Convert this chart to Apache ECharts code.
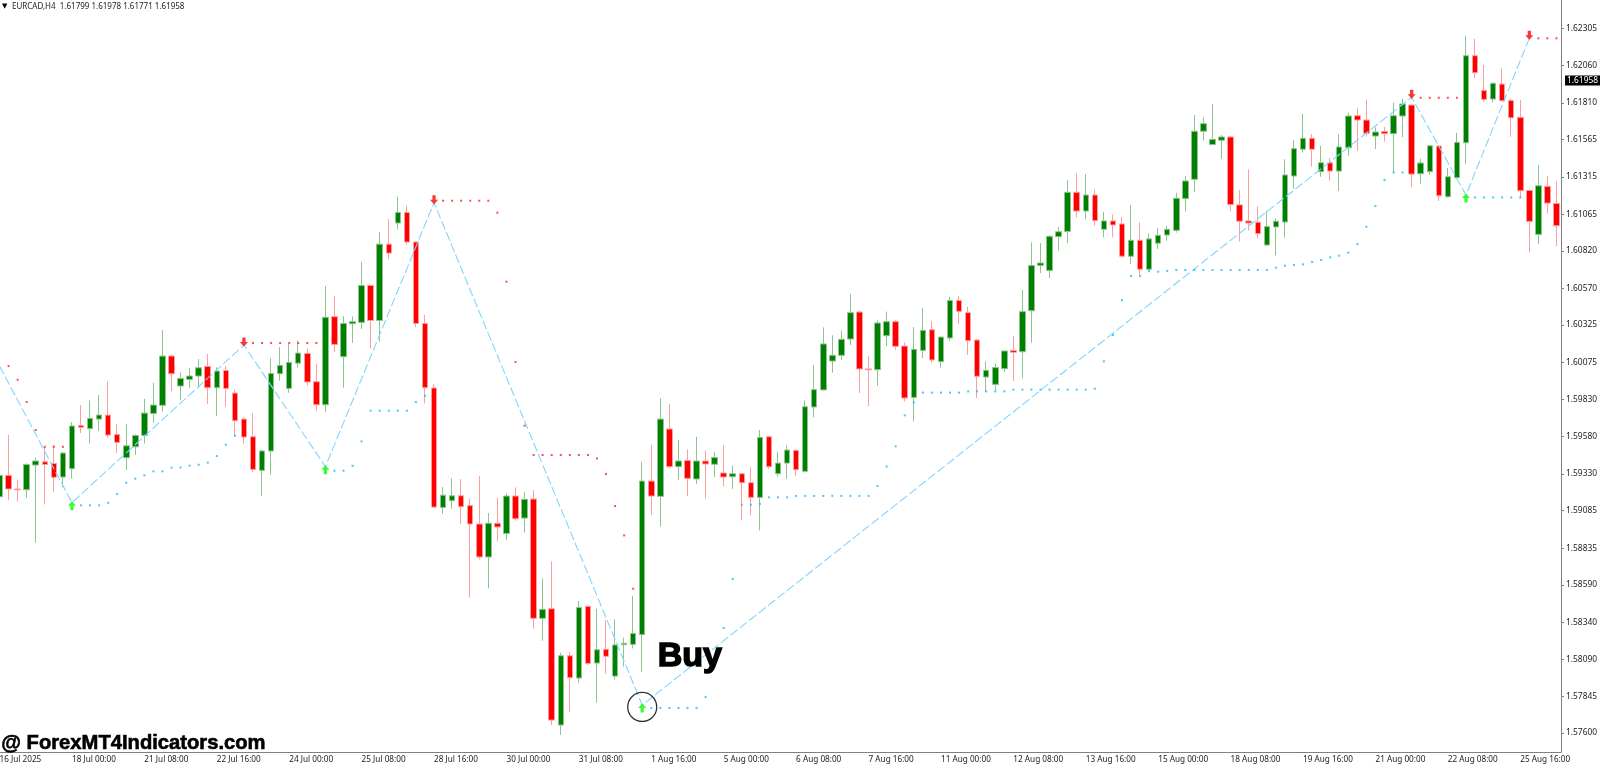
<!DOCTYPE html>
<html>
<head>
<meta charset="utf-8">
<title>EURCAD,H4</title>
<style>
html,body{margin:0;padding:0;background:#fff;overflow:hidden;}
/* first candle sits half off the left edge, the grid can't start below 0 so the whole chart moves 5px */
#chart{position:absolute;left:-5px;top:0;width:1605px;height:768px;}
</style>
<script src="https://cdn.jsdelivr.net/npm/echarts@6/dist/echarts.min.js"></script>
</head>
<body>
<div id="chart"></div>
<script>
const xLabels = ['16 Jul 2025','18 Jul 00:00','21 Jul 08:00','22 Jul 16:00','24 Jul 00:00','25 Jul 08:00','28 Jul 16:00','30 Jul 00:00','31 Jul 08:00','1 Aug 16:00','5 Aug 00:00','6 Aug 08:00','7 Aug 16:00','11 Aug 00:00','12 Aug 08:00','13 Aug 16:00','15 Aug 00:00','18 Aug 08:00','19 Aug 16:00','21 Aug 00:00','22 Aug 08:00','25 Aug 16:00'];
const yTicks = [1.62305,1.62060,1.61810,1.61565,1.61315,1.61065,1.60820,1.60570,1.60325,1.60075,1.59830,1.59580,1.59330,1.59085,1.58835,1.58590,1.58340,1.58090,1.57845,1.57600];
const lastPrice = 1.61958;

const opens = [
1.59178,1.59321,1.59230,1.59225,1.59390,1.59412,1.59401,1.59310,1.59366,1.59655,
1.59633,1.59697,1.59724,1.59595,1.59439,1.59512,1.59588,1.59735,1.59789,1.60118,
1.59918,1.59962,1.59985,1.60049,1.59907,1.60022,1.59871,1.59697,1.59579,1.59354,
1.59484,1.60000,1.59902,1.60071,1.60136,1.59947,1.59793,1.60381,1.60114,1.60334,
1.60343,1.60590,1.60356,1.60866,1.61007,1.61078,1.60880,1.60336,1.59905,1.59107,
1.59152,1.59185,1.59119,1.58996,1.58776,1.59001,1.58933,1.59183,1.59036,1.59163,
1.58366,1.58430,1.57653,1.58116,1.57967,1.58446,1.58067,1.58159,1.57980,1.58190,
1.58192,1.58257,1.59283,1.59181,1.59631,1.59379,1.59421,1.59297,1.59417,1.59395,
1.59337,1.59312,1.59332,1.59272,1.59174,1.59579,1.59332,1.59403,1.59488,1.59348,
1.59778,1.59892,1.60085,1.60123,1.60232,1.60412,1.60032,1.60027,1.60254,1.60348,
1.60185,1.59842,1.60156,1.60294,1.60081,1.60239,1.60490,1.60408,1.60225,1.59978,
1.59929,1.60034,1.60156,1.60147,1.60421,1.60724,1.60689,1.60916,1.60951,1.61212,
1.61087,1.61194,1.60965,1.61021,1.61001,1.60785,1.60892,1.60698,1.60872,1.60927,
1.60958,1.61170,1.61299,1.61620,1.61531,1.61560,1.61582,1.61128,1.61021,1.61012,
1.60860,1.60981,1.61014,1.61321,1.61500,1.61573,1.61350,1.61410,1.61354,1.61510,
1.61724,1.61695,1.61588,1.61619,1.61604,1.61722,1.61795,1.61336,1.61350,1.61521,
1.61183,1.61310,1.61543,1.62125,1.61893,1.61835,1.61935,1.61826,1.61713,1.61225,
1.60931,1.61252,1.61138];
const closes = [
1.59321,1.59230,1.59225,1.59394,1.59417,1.59394,1.59308,1.59470,1.59651,1.59642,
1.59702,1.59724,1.59590,1.59541,1.59519,1.59588,1.59737,1.59791,1.60118,1.60000,
1.59969,1.59985,1.60040,1.59907,1.60018,1.59902,1.59686,1.59577,1.59361,1.59484,
1.60002,1.60056,1.60076,1.60138,1.59945,1.59793,1.60377,1.60196,1.60336,1.60348,
1.60590,1.60356,1.60866,1.60806,1.61078,1.60880,1.60336,1.59907,1.59109,1.59189,
1.59185,1.59112,1.58996,1.58776,1.59001,1.58976,1.59183,1.59031,1.59161,1.58366,
1.58426,1.57686,1.58116,1.57969,1.58439,1.58065,1.58156,1.58112,1.58188,1.58199,
1.58265,1.59283,1.59183,1.59697,1.59379,1.59417,1.59301,1.59417,1.59397,1.59441,
1.59310,1.59332,1.59272,1.59174,1.59575,1.59379,1.59403,1.59490,1.59359,1.59780,
1.59894,1.60199,1.60123,1.60230,1.60408,1.60032,1.60027,1.60339,1.60348,1.60183,
1.59838,1.60163,1.60290,1.60092,1.60245,1.60490,1.60417,1.60221,1.59983,1.60023,
1.60041,1.60152,1.60143,1.60415,1.60724,1.60740,1.60918,1.60949,1.61212,1.61087,
1.61194,1.61023,1.61021,1.60994,1.60785,1.60892,1.60698,1.60901,1.60925,1.60965,
1.61172,1.61288,1.61620,1.61671,1.61566,1.61582,1.61130,1.61019,1.61007,1.60936,
1.60983,1.61019,1.61328,1.61504,1.61573,1.61500,1.61410,1.61354,1.61515,1.61722,
1.61695,1.61606,1.61615,1.61604,1.61724,1.61802,1.61334,1.61408,1.61523,1.61189,
1.61316,1.61546,1.62125,1.62011,1.61833,1.61940,1.61824,1.61710,1.61223,1.61018,
1.61256,1.61140,1.60989];
const highs = [
1.59345,1.59590,1.59294,1.59401,1.59439,1.59512,1.59524,1.59479,1.59677,1.59791,
1.59822,1.59858,1.59947,1.59666,1.59664,1.59595,1.59833,1.59940,1.60292,1.60125,
1.60009,1.60040,1.60098,1.60132,1.60043,1.60051,1.59893,1.59711,1.59737,1.59490,
1.60103,1.60178,1.60196,1.60223,1.60169,1.60065,1.60586,1.60519,1.60385,1.60383,
1.60748,1.60594,1.60947,1.61033,1.61183,1.61123,1.60884,1.60392,1.59931,1.59243,
1.59301,1.59296,1.59168,1.59317,1.59070,1.59170,1.59201,1.59241,1.59212,1.59223,
1.58633,1.58747,1.58136,1.58139,1.58482,1.58453,1.58430,1.58355,1.58359,1.58237,
1.58517,1.59412,1.59526,1.59836,1.59798,1.59557,1.59495,1.59579,1.59488,1.59477,
1.59524,1.59386,1.59336,1.59375,1.59624,1.59584,1.59477,1.59522,1.59495,1.59822,
1.60058,1.60310,1.60257,1.60290,1.60533,1.60419,1.60119,1.60355,1.60415,1.60359,
1.60210,1.60312,1.60441,1.60350,1.60250,1.60513,1.60519,1.60446,1.60232,1.60083,
1.60067,1.60156,1.60250,1.60559,1.60878,1.60873,1.60927,1.60980,1.61294,1.61339,
1.61334,1.61232,1.61081,1.61063,1.61045,1.61128,1.61012,1.60938,1.60974,1.60987,
1.61208,1.61321,1.61729,1.61713,1.61802,1.61595,1.61586,1.61228,1.61366,1.61119,
1.61088,1.61039,1.61433,1.61560,1.61736,1.61602,1.61523,1.61441,1.61601,1.61744,
1.61773,1.61831,1.61646,1.61648,1.61811,1.61837,1.61800,1.61437,1.61528,1.61526,
1.61374,1.61610,1.62258,1.62238,1.62062,1.61947,1.62040,1.61837,1.61829,1.61232,
1.61394,1.61321,1.61285];
const lows = [
1.59167,1.59156,1.59145,1.59170,1.58871,1.59127,1.59212,1.59241,1.59299,1.59604,
1.59535,1.59619,1.59573,1.59470,1.59357,1.59457,1.59535,1.59673,1.59746,1.59884,
1.59822,1.59904,1.59909,1.59798,1.59717,1.59780,1.59584,1.59533,1.59345,1.59185,
1.59325,1.59953,1.59873,1.60040,1.59920,1.59753,1.59746,1.60143,1.59907,1.60207,
1.60299,1.60169,1.60214,1.60764,1.60964,1.60862,1.60312,1.59802,1.59105,1.59065,
1.59098,1.58996,1.58506,1.58760,1.58566,1.58880,1.58889,1.59018,1.58938,1.58297,
1.58216,1.57653,1.57588,1.57742,1.57936,1.58054,1.57802,1.57996,1.57956,1.58043,
1.58165,1.58009,1.59056,1.58978,1.59368,1.59292,1.59183,1.59265,1.59165,1.59310,
1.59248,1.59230,1.59020,1.59054,1.58954,1.59363,1.59312,1.59299,1.59317,1.59340,
1.59709,1.59887,1.60007,1.60092,1.60192,1.59871,1.59784,1.59920,1.60185,1.60161,
1.59816,1.59682,1.60105,1.60074,1.60041,1.60221,1.60332,1.60125,1.59838,1.59880,
1.59889,1.60012,1.59952,1.59969,1.60208,1.60673,1.60640,1.60824,1.60873,1.61043,
1.61032,1.60989,1.60912,1.60912,1.60776,1.60734,1.60656,1.60689,1.60834,1.60889,
1.60943,1.61085,1.61215,1.61557,1.61529,1.61437,1.61085,1.60883,1.60956,1.60905,
1.60856,1.60791,1.60909,1.61235,1.61477,1.61384,1.61316,1.61290,1.61221,1.61457,
1.61490,1.61586,1.61501,1.61550,1.61343,1.61581,1.61245,1.61270,1.61330,1.61154,
1.61176,1.61307,1.61401,1.61976,1.61817,1.61813,1.61820,1.61584,1.61178,1.60811,
1.60866,1.61069,1.60853];

// zigzag pivots, [candle index, price]
const zigzag = [[0,1.60052],[8,1.59139],[27,1.60192],[36,1.59379],[48,1.61143],[71,1.57787],[156,1.61847],[162,1.61194],[169,1.62241]];
const upArrows = [[8,1.59139],[36,1.59379],[71,1.57787],[162,1.61194]];
const downArrows = [[27,1.60192],[48,1.61143],[156,1.61847],[169,1.62241]];
const buyCircle = [[71,1.57774]];

const blueDots = [
[9,1.59121],[10,1.59121],[11,1.59121],[12,1.59138],[13,1.59196],[14,1.59272],[15,1.59299],[16,1.59321],[17,1.59348],[18,1.59348],
[19,1.59372],[20,1.59374],[21,1.59386],[22,1.59392],[23,1.59406],[24,1.59450],[25,1.59526],[26,1.59586],
[37,1.59352],[38,1.59352],[39,1.59385],[40,1.59548],[41,1.59753],[42,1.59753],[43,1.59753],[44,1.59753],[45,1.59753],[46,1.59811],[47,1.59853],
[72,1.57767],[73,1.57767],[74,1.57767],[75,1.57767],[76,1.57767],[77,1.57767],[78,1.57840],[79,1.58054],[80,1.58301],[81,1.58629],
[82,1.59125],[83,1.59125],[84,1.59130],[85,1.59174],[86,1.59174],[87,1.59174],[88,1.59184],[89,1.59184],[90,1.59184],[91,1.59184],
[92,1.59184],[93,1.59184],[94,1.59184],[95,1.59184],[96,1.59184],[97,1.59250],[98,1.59380],[99,1.59515],[100,1.59722],[101,1.59809],
[102,1.59874],[103,1.59874],[104,1.59874],[105,1.59874],[106,1.59874],[107,1.59882],[108,1.59882],[109,1.59882],[110,1.59882],[111,1.59882],
[112,1.59894],[113,1.59894],[114,1.59894],[115,1.59894],[116,1.59894],[117,1.59894],[118,1.59894],[119,1.59894],[120,1.59894],[121,1.59900],
[122,1.60083],[123,1.60259],[124,1.60491],[125,1.60653],[126,1.60653],[127,1.60685],[128,1.60682],[129,1.60687],[130,1.60693],[131,1.60693],
[132,1.60693],[133,1.60693],[134,1.60693],[135,1.60693],[136,1.60693],[137,1.60693],[138,1.60693],[139,1.60693],[140,1.60693],[141,1.60709],
[142,1.60722],[143,1.60727],[144,1.60731],[145,1.60747],[146,1.60760],[147,1.60778],[148,1.60789],[149,1.60809],[150,1.60866],[151,1.60982],
[152,1.61120],[153,1.61294],[154,1.61345],[155,1.61345],
[163,1.61178],[164,1.61178],[165,1.61178],[166,1.61178],[167,1.61178],[168,1.61178]];
const redDots = [
[1,1.60051],[2,1.59960],[3,1.59811],[4,1.59624],[5,1.59512],[6,1.59512],[7,1.59512],
[28,1.60205],[29,1.60205],[30,1.60205],[31,1.60205],[32,1.60205],[33,1.60205],[34,1.60205],[35,1.60205],
[49,1.61156],[50,1.61156],[51,1.61156],[52,1.61156],[53,1.61156],[54,1.61156],[55,1.61076],[56,1.60615],[57,1.60078],[58,1.59653],
[59,1.59457],[60,1.59457],[61,1.59457],[62,1.59457],[63,1.59457],[64,1.59457],[65,1.59457],[66,1.59434],[67,1.59330],[68,1.59116],[69,1.58920],[70,1.58564],
[157,1.61844],[158,1.61844],[159,1.61844],[160,1.61844],[161,1.61844],
[170,1.62241],[171,1.62241],[172,1.62241]];

const axisFont = 'Noto Sans';
const arrowPath = 'path://M5 0 L10 5.5 L7 5.5 L7 11 L3 11 L3 5.5 L0 5.5 Z';

const categories = opens.map((o, i) => (i % 8 === 0 ? xLabels[i / 8] : ''));
const candleData = opens.map((o, i) => [o, closes[i], lows[i], highs[i]]);

const chart = echarts.init(document.getElementById('chart'), null, {renderer: 'canvas'});
chart.setOption({
    animation: false,
    backgroundColor: '#ffffff',
    grid: {left: 0, right: 37, top: 0, bottom: 16},
    xAxis: {
        type: 'category',
        data: categories,
        boundaryGap: true,
        axisLine: {lineStyle: {color: '#808080', width: 1}},
        axisTick: {alignWithLabel: true, interval: 7, length: 3, lineStyle: {color: '#808080'}},
        axisLabel: {interval: 7, align: 'left', margin: 4, fontFamily: axisFont, fontSize: 8.2, color: '#222222', hideOverlap: false},
        splitLine: {show: false}
    },
    yAxis: {
        type: 'value',
        position: 'right',
        min: 1.57473,
        max: 1.62497,
        scale: true,
        axisLine: {show: true, lineStyle: {color: '#808080', width: 1}},
        axisTick: {show: true, length: 3, customValues: yTicks, lineStyle: {color: '#808080'}},
        axisLabel: {customValues: yTicks, margin: 5, fontFamily: axisFont, fontSize: 8.4, color: '#222222', formatter: v => v.toFixed(5)},
        splitLine: {show: false}
    },
    series: [
        {
            type: 'candlestick',
            data: candleData,
            barWidth: 6,
            silent: true,
            itemStyle: {color: '#008000', color0: '#ff0000', borderColor: '#8fc48f', borderColor0: '#ff9c9c', borderWidth: 1},
            markLine: {
                silent: true,
                symbol: 'none',
                lineStyle: {color: 'rgba(0,0,0,0)'},
                label: {
                    show: true, position: 'end', distance: 1, offset: [3, 6], formatter: lastPrice.toFixed(5),
                    backgroundColor: '#000000', color: '#ffffff', fontFamily: axisFont, fontSize: 8.4, padding: [1, 2]
                },
                data: [{yAxis: lastPrice}]
            }
        },
        {
            type: 'line',
            data: zigzag,
            symbol: 'none',
            silent: true,
            z: 3,
            lineStyle: {color: '#7fd6ff', width: 1.1, type: [9, 3]}
        },
        {
            type: 'scatter',
            data: blueDots,
            symbol: 'rect',
            symbolSize: 2,
            silent: true,
            z: 4,
            itemStyle: {color: '#1fb6ff'}
        },
        {
            type: 'scatter',
            data: redDots,
            symbol: 'rect',
            symbolSize: 2,
            silent: true,
            z: 4,
            itemStyle: {color: '#ff2020'}
        },
        {
            type: 'scatter',
            data: upArrows,
            symbol: arrowPath,
            symbolSize: [8, 9],
            symbolOffset: [0, 3],
            silent: true,
            z: 5,
            itemStyle: {color: '#00ff00'}
        },
        {
            type: 'scatter',
            data: downArrows,
            symbol: arrowPath,
            symbolSize: [8, 9],
            symbolRotate: 180,
            symbolOffset: [0, -3],
            silent: true,
            z: 5,
            itemStyle: {color: '#ff0000'}
        },
        {
            type: 'scatter',
            data: buyCircle,
            symbol: 'circle',
            symbolSize: 29,
            silent: true,
            z: 6,
            itemStyle: {color: 'rgba(0,0,0,0)', borderColor: '#000000', borderWidth: 1.3}
        }
    ],
    graphic: [
        {type: 'text', silent: true, left: 7, top: 3, style: {text: '▼', fill: '#000000', font: '7px "DejaVu Sans"'}},
        {type: 'text', silent: true, left: 17, top: 3, style: {text: 'EURCAD,H4  1.61799 1.61978 1.61771 1.61958', fill: '#222222', font: '8px "Noto Sans"'}},
        {type: 'text', silent: true, left: 662, top: 639, z: 10, style: {text: 'Buy', fill: '#000000', stroke: '#000000', lineWidth: 1.5, font: 'bold 34px "Liberation Sans"'}},
        {type: 'text', silent: true, left: 6, top: 733, z: 10, style: {text: '@ ForexMT4Indicators.com', fill: '#000000', stroke: '#000000', lineWidth: 0.6, font: 'bold 20.2px "Liberation Sans"'}}
    ]
});
</script>
</body>
</html>
